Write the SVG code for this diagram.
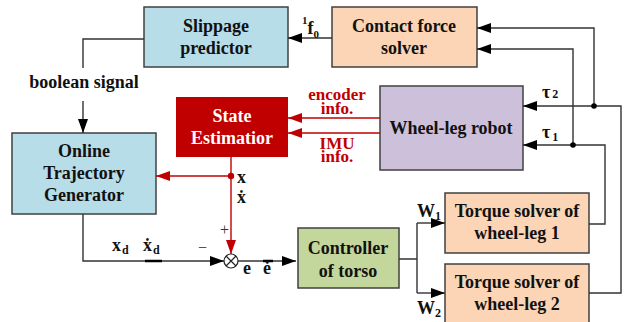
<svg xmlns="http://www.w3.org/2000/svg" width="626" height="322" viewBox="0 0 626 322">
<style>
.box{stroke:#404040;stroke-width:1.5}
.t{font-family:"Liberation Serif","Times New Roman",serif;font-weight:bold;font-size:18px;text-anchor:middle;fill:#111}
.l{font-family:"Liberation Serif","Times New Roman",serif;font-weight:bold;font-size:18px;fill:#111}
.r{fill:#c00000;font-size:17px}
.ln{fill:none;stroke:#333;stroke-width:1.4}
.rl{fill:none;stroke:#c00000;stroke-width:1.4}
</style>
<defs>
<marker id="a" markerUnits="userSpaceOnUse" markerWidth="14" markerHeight="10" refX="14" refY="5" orient="auto"><path d="M0,0 L14,5 L0,10 z" fill="#000"/></marker>
<marker id="ar" markerUnits="userSpaceOnUse" markerWidth="14" markerHeight="10" refX="14" refY="5" orient="auto"><path d="M0,0 L14,5 L0,10 z" fill="#c00000"/></marker>
</defs>
<rect width="626" height="322" fill="#fff"/>
<g id="slippage"><rect class="box" x="144" y="7" width="144" height="60" fill="#b7dde8"/><text class="t" x="216" y="32">Slippage</text><text class="t" x="216" y="54">predictor</text></g>
<g id="contact"><rect class="box" x="332" y="7" width="145" height="60" fill="#fbd5b5"/><text class="t" x="404" y="32">Contact force</text><text class="t" x="404" y="54">solver</text></g>
<g id="state"><rect x="176" y="97" width="112" height="60" fill="#c00000"/><text class="t" x="232" y="122" style="fill:#fff">State</text><text class="t" x="232" y="144" style="fill:#fff">Estimatior</text></g>
<g id="otg"><rect class="box" x="12" y="133" width="144" height="81" fill="#b7dde8"/><text class="t" x="84" y="157">Online</text><text class="t" x="84" y="179">Trajectory</text><text class="t" x="84" y="201">Generator</text></g>
<g id="robot"><rect class="box" x="380" y="86" width="143" height="84" fill="#ccc0da"/><text class="t" x="451" y="134">Wheel-leg robot</text></g>
<g id="controller"><rect class="box" x="298" y="228" width="101" height="60" fill="#c3d69b"/><text class="t" x="348" y="254">Controller</text><text class="t" x="348" y="277">of torso</text></g>
<g id="ts1"><rect class="box" x="445" y="193" width="144" height="60" fill="#fbd5b5"/><text class="t" x="517" y="217">Torque solver of</text><text class="t" x="517" y="239">wheel-leg 1</text></g>
<g id="ts2"><rect class="box" x="445" y="264" width="144" height="64" fill="#fbd5b5"/><text class="t" x="517" y="288">Torque solver of</text><text class="t" x="517" y="310">wheel-leg 2</text></g>
<g id="sum"><circle cx="231" cy="261" r="7" fill="#fff" stroke="#222" stroke-width="1.2"/><path d="M226,256 L236,266 M236,256 L226,266" stroke="#222" stroke-width="1.2"/></g>
<g id="connectors">
<path class="ln" d="M332,38 H288" marker-end="url(#a)"/>
<path class="ln" d="M144,39 H83 V68"/>
<path class="ln" d="M83,101 V133" marker-end="url(#a)"/>
<path class="ln" d="M594,106 V28 H477" marker-end="url(#a)"/>
<path class="ln" d="M573,145 V49 H477" marker-end="url(#a)"/>
<path class="ln" d="M589,293 H621 V106 H523" marker-end="url(#a)"/>
<path class="ln" d="M589,224 H605 V145 H523" marker-end="url(#a)"/>
<circle cx="594" cy="106" r="2.8" fill="#000"/>
<circle cx="573" cy="145" r="2.8" fill="#000"/>
<path class="rl" d="M380,118 H288" marker-end="url(#ar)"/>
<path class="rl" d="M380,133 H288" marker-end="url(#ar)"/>
<path class="rl" d="M231,176 H156" marker-end="url(#ar)"/>
<path class="rl" d="M231,157 V254" marker-end="url(#ar)"/>
<circle cx="231" cy="176" r="3.2" fill="#c00000"/>
<path class="ln" d="M83,214 V261 H224" marker-end="url(#a)"/>
<path class="ln" d="M238,261 H296" marker-end="url(#a)"/>
<path stroke="#000" stroke-width="2.5" d="M145,261 H162 M263,261 H273"/>
<path class="ln" d="M399,259 H417 M417,223 V293"/>
<path class="ln" d="M417,223 H445" marker-end="url(#a)"/>
<path class="ln" d="M417,293 H445" marker-end="url(#a)"/>
</g>
<g id="labels">
<text class="l" x="302" y="34"><tspan font-size="11" dy="-10">1</tspan><tspan dy="10">f</tspan><tspan font-size="11" dy="4">0</tspan></text>
<text class="t" x="84" y="88">boolean signal</text>
<text class="t r" x="337" y="100">encoder<tspan x="337" dy="14">info.</tspan></text>
<text class="t r" x="337" y="149">IMU<tspan x="337" dy="13">info.</tspan></text>
<text class="l" x="542" y="98">τ<tspan font-size="12" dx="2">2</tspan></text>
<text class="l" x="542" y="138">τ<tspan font-size="12" dx="2" dy="3">1</tspan></text>
<text class="l" x="237" y="183">x</text>
<text class="l" x="237" y="203">ẋ</text>
<text x="220" y="235" font-family="Liberation Serif,serif" font-size="16" fill="#333">+</text>
<text x="198" y="253" font-family="Liberation Serif,serif" font-size="16" fill="#333">−</text>
<text class="l" x="112" y="251">x<tspan font-size="12" dx="1" dy="3">d</tspan></text>
<text class="l" x="143" y="251">ẋ<tspan font-size="12" dx="1" dy="3">d</tspan></text>
<text class="l" x="243" y="274">e</text>
<text class="l" x="263" y="274">ė</text>
<text class="l" x="417" y="217">W<tspan font-size="12" dy="3">1</tspan></text>
<text class="l" x="417" y="314">W<tspan font-size="12" dy="3">2</tspan></text>
</g>
</svg>
